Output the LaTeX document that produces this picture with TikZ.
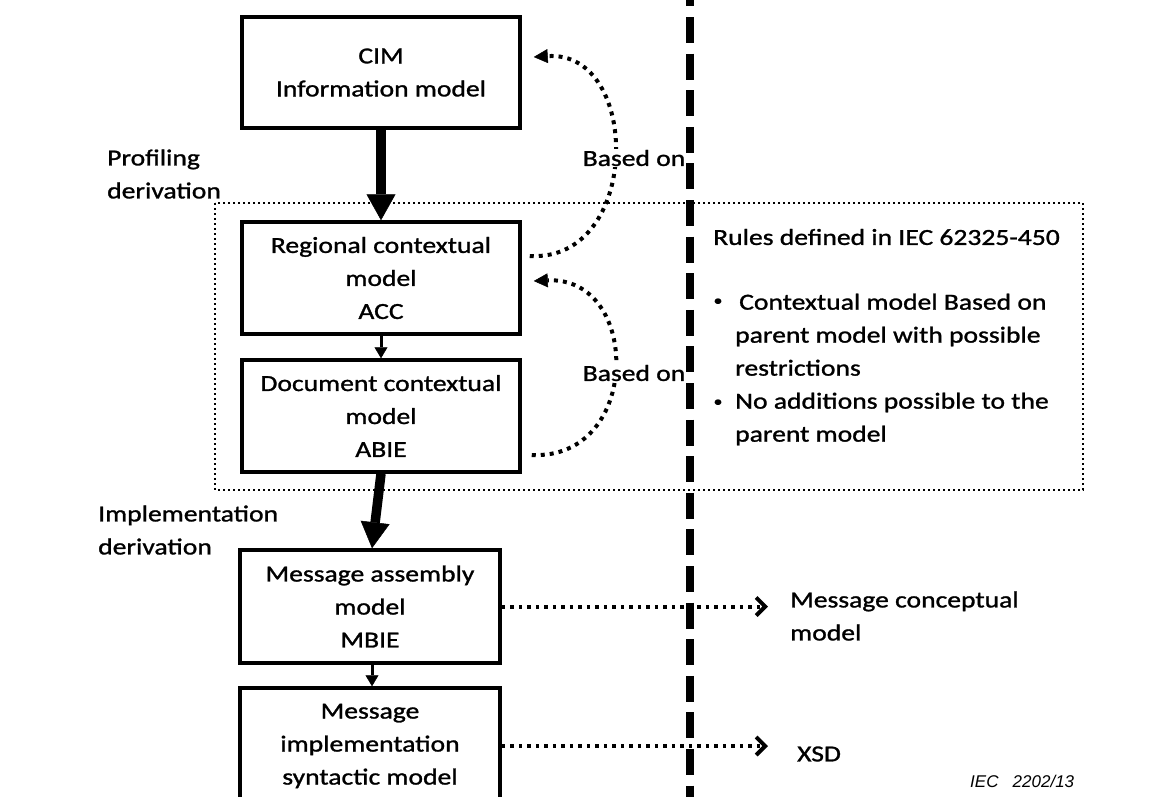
\documentclass[tikz,border=0pt]{standalone}
\usepackage{fontspec}
\setmainfont{Carlito}[FakeStretch=1.2,FakeBold=1.2]
\newfontfamily\arialfont{Liberation Sans}
\usetikzlibrary{arrows.meta}
\begin{document}
\begin{tikzpicture}[x=1pt,y=-1pt,
  every node/.style={font=\fontsize{23}{33}\selectfont, inner sep=0pt},
  modelbox/.style={draw, line width=3.5pt, align=center, fill=white},
  thickarrow/.style={line width=9.5pt, -{Triangle[width=29pt,length=26pt,line width=0.5pt]}},
  thinarrow/.style={line width=3pt, -{Triangle[width=13pt,length=11pt,line width=0.5pt]}},
  dotcurve/.style={line width=4pt, dash pattern=on 4pt off 5pt, -{Triangle[width=14pt,length=14pt,line width=0.5pt]}},
  dotarrow/.style={line width=4pt, dash pattern=on 3.5pt off 5pt, -{Straight Barb[width=18pt,length=9pt,line width=4pt]}},
  sidelabel/.style={anchor=west, align=left},
  basedlabel/.style={fill=white, inner sep=1pt},
  rulesbox/.style={line width=2pt, dash pattern=on 2pt off 3pt},
  divider/.style={line width=8pt, dash pattern=on 26pt off 10.6pt},
  bulletmark/.style={font=\fontsize{15}{15}\selectfont},
]
\useasboundingbox (0,0) rectangle (1155,796);
\clip (0,0) rectangle (1155,796);

% dotted rules frame
\draw[rulesbox] (215,203) rectangle (1083,490);

% vertical divider
\coordinate (vt) at (690,-19.6);
\coordinate (vb) at (690,810);
\draw[divider] (vt) -- (vb);

% model boxes
\node[modelbox, minimum width=278pt, minimum height=111pt] (cim) at (381,72.5) {CIM\\Information model};
\node[modelbox, minimum width=278pt, minimum height=112pt] (reg) at (381,278) {Regional contextual\\model\\ACC};
\node[modelbox, minimum width=278pt, minimum height=112pt] (doc) at (381,416) {Document contextual\\model\\ABIE};
\node[modelbox, minimum width=260pt, minimum height=113pt] (mam) at (370,606.5) {Message assembly\\model\\MBIE};
\node[modelbox, minimum width=260pt, minimum height=116pt] (mis) at (370,746) {Message\\implementation\\syntactic model};

% vertical arrows
\draw[thickarrow] (cim.south) -- (reg.north);
\draw[thinarrow] (reg.south) -- (doc.north);
\draw[thickarrow] (doc.south) -- ([xshift=2pt]mam.north);
\draw[thinarrow] ([xshift=2pt]mam.south) -- ([xshift=2pt]mis.north);

% side labels
\node[sidelabel] (prof) at (107,174) {Profiling\\derivation};
\node[sidelabel] (impl) at (98,530) {Implementation\\derivation};

% based-on curves
\coordinate (b1s) at ([xshift=8pt,yshift=22pt]reg.east);
\coordinate (b1e) at ([xshift=12pt,yshift=15.5pt]cim.east);
\draw[dotcurve] (b1s) .. controls +(112,6) and +(108,-7) .. (b1e);
\coordinate (b2s) at ([xshift=10pt,yshift=-39pt]doc.east);
\coordinate (b2e) at ([xshift=12pt,yshift=-3pt]reg.east);
\draw[dotcurve] (b2s) .. controls +(110,5) and +(108,-5) .. (b2e);
\node[basedlabel] (based1) at (634,158) {Based on};
\node[basedlabel] (based2) at (634,373) {Based on};

% rules text
\node[sidelabel] (rules) at (713,237) {Rules defined in IEC 62325-450};
\node[bulletmark] (bul1) at (718,302) {\textbullet};
\node[bulletmark] (bul2) at (718,403) {\textbullet};
\node[sidelabel] (rulestext) at (735,369.5) {\hspace*{4pt}Contextual model Based on\\parent model with possible\\restrictions\\No additions possible to the\\parent model};

% outputs
\coordinate (t1) at (768,606.5);
\coordinate (t2) at (768,746);
\draw[dotarrow] (mam.east) -- (t1);
\draw[dotarrow] (mis.east) -- (t2);
\node[sidelabel] (mcm) at (790,616) {Message conceptual\\model};
\node[sidelabel] (xsd) at (797,754) {XSD};

\node[anchor=west, font=\arialfont\itshape\fontsize{17}{20}\selectfont] (iec) at (970,781) {IEC\ \ \ 2202/13};
\end{tikzpicture}
\end{document}
